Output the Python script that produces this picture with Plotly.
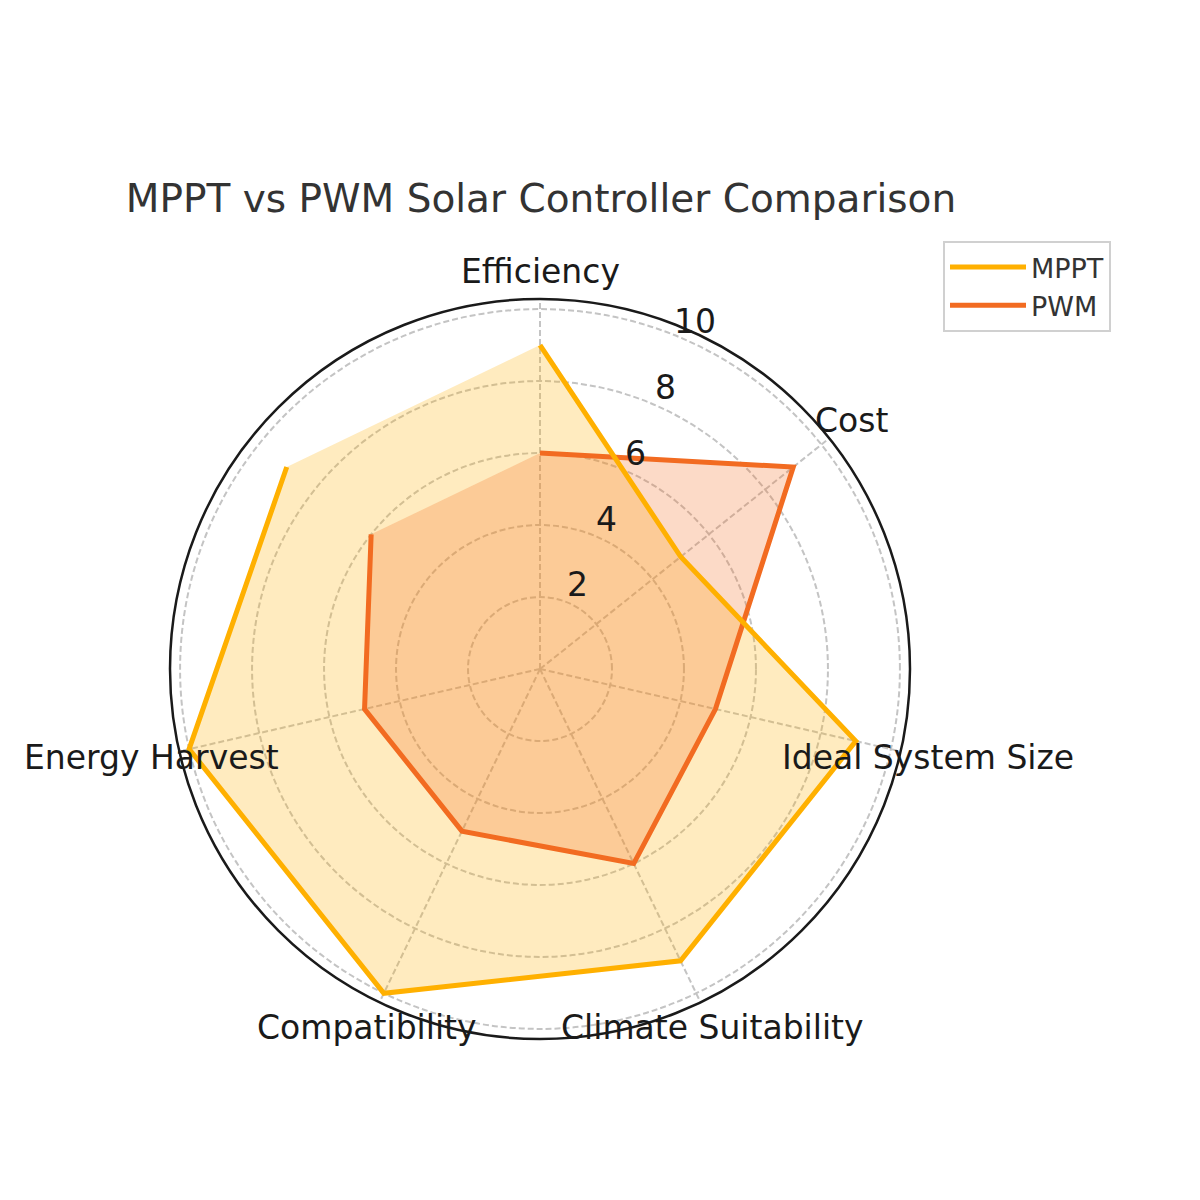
import math
import plotly.graph_objects as go

# ---- data ----
categories = ["Efficiency", "Cost", "Ideal System Size", "Climate Suitability",
              "Compatibility", "Energy Harvest", ""]
mppt_values = [9, 5, 9, 9, 10, 10, 9]
pwm_values = [6, 9, 5, 6, 5, 5, 6]
radial_ticks = [2, 4, 6, 8, 10]
series_names = ["MPPT", "PWM"]

n = len(categories)
angles = [i * 360.0 / n for i in range(n)]

MPPT_COLOR = "#FFB000"
PWM_COLOR = "#F26B21"
FONT = "DejaVu Sans"
GRID = "#c4c4c4"

# geometry (pixels in the page; page body has an 8px margin)
W = H = 1200
OFF = 8
CX, CY, R = 540 - OFF, 669 - OFF, 370
RMAX = 10.28

fig = go.Figure()

# fills
fig.add_trace(go.Scatterpolar(r=mppt_values, theta=angles, mode="lines", fill="toself",
                              fillcolor="rgba(255,176,0,0.25)", line=dict(width=0),
                              showlegend=False, hoverinfo="skip"))
fig.add_trace(go.Scatterpolar(r=pwm_values, theta=angles, mode="lines", fill="toself",
                              fillcolor="rgba(242,107,33,0.25)", line=dict(width=0),
                              showlegend=False, hoverinfo="skip"))
# lines (not closed)
fig.add_trace(go.Scatterpolar(r=pwm_values, theta=angles, mode="lines", name=series_names[1],
                              legendgroup="b", line=dict(color=PWM_COLOR, width=5)))
fig.add_trace(go.Scatterpolar(r=mppt_values, theta=angles, mode="lines", name=series_names[0],
                              legendgroup="a", line=dict(color=MPPT_COLOR, width=5)))

annotations = []
# category labels
for cat, a in zip(categories, angles):
    if not cat:
        continue
    t = math.radians(a)
    px = CX + 398 * math.sin(t)
    py = CY - 398 * math.cos(t)
    annotations.append(dict(x=px / W, y=1 - py / H, xref="paper", yref="paper",
                            text=cat, showarrow=False, xanchor="center", yanchor="middle",
                            font=dict(family=FONT, size=33, color="#1a1a1a")))
# radial tick labels
for v in radial_ticks:
    t = math.radians(24)
    rr = v / RMAX * R + 20
    px = CX + rr * math.sin(t)
    py = CY - rr * math.cos(t)
    annotations.append(dict(x=px / W, y=1 - py / H, xref="paper", yref="paper",
                            text=str(v), showarrow=False, xanchor="center", yanchor="middle",
                            font=dict(family=FONT, size=33, color="#1a1a1a")))

fig.update_layout(
    width=W, height=H,
    margin=dict(l=0, r=0, t=0, b=0),
    paper_bgcolor="white",
    font=dict(family=FONT),
    title=dict(text="MPPT vs PWM Solar Controller Comparison", x=(541 - OFF) / W,
               y=1 - (198 - OFF) / H,
               xanchor="center", yanchor="middle", xref="paper", yref="paper",
               font=dict(family=FONT, size=39, color="#333333")),
    polar=dict(
        domain=dict(x=[(CX - R) / W, (CX + R) / W], y=[1 - (CY + R) / H, 1 - (CY - R) / H]),
        bgcolor="rgba(0,0,0,0)",
        angularaxis=dict(type="linear", thetaunit="degrees", rotation=90, direction="clockwise",
                         tickvals=angles[:6], showticklabels=False, ticks="",
                         showline=True, linecolor="#1a1a1a", linewidth=2.5,
                         showgrid=True, gridcolor=GRID, griddash="6px,3px", gridwidth=1.5),
        radialaxis=dict(range=[0, RMAX], tickvals=radial_ticks, showticklabels=False, ticks="",
                        showline=False, showgrid=True, gridcolor=GRID, griddash="6px,3px",
                        gridwidth=1.5),
    ),
    legend=dict(x=(943 - OFF) / W, y=1 - (241 - OFF) / H, xanchor="left", yanchor="top",
                bordercolor="#d0d0d0", borderwidth=2, bgcolor="white",
                itemwidth=76, tracegroupgap=4,
                font=dict(family=FONT, size=27, color="#333333"), traceorder="reversed"),
    annotations=annotations,
)

fig.write_html("out.html")
